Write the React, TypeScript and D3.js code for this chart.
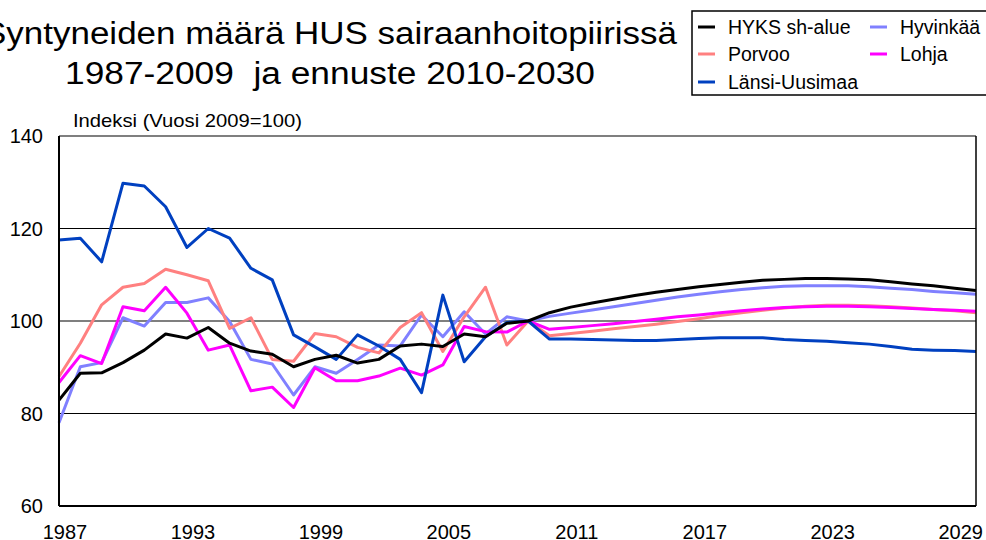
import React from "react";
import * as d3 from "d3";

const years: number[] = d3.range(1987, 2031);

const hyks: number[] = [
  82.9, 88.7, 88.8, 91.0, 93.7, 97.2, 96.3, 98.6, 95.2, 93.5, 92.8, 90.1, 91.7, 92.6, 90.9, 91.7, 94.6, 95.0, 94.5, 97.2, 96.6, 99.5,
  100, 101.8, 103.0, 103.9, 104.7, 105.5, 106.2, 106.8, 107.4, 107.9, 108.4, 108.8, 109.0, 109.2, 109.2, 109.1, 108.9, 108.5, 108.0, 107.6, 107.1, 106.6,
];
const hyvinkaa: number[] = [
  78.0, 90.1, 91.0, 100.7, 98.9, 104.0, 104.0, 105.0, 99.9, 91.7, 90.7, 84.0, 90.1, 88.7, 91.7, 94.8, 94.6, 101.3, 96.6, 102.0, 97.2, 100.9,
  100, 101.0, 101.7, 102.4, 103.1, 103.8, 104.5, 105.2, 105.8, 106.3, 106.8, 107.2, 107.5, 107.6, 107.6, 107.6, 107.4, 107.1, 106.8, 106.4, 106.1, 105.8,
];
const porvoo: number[] = [
  88.0, 95.2, 103.5, 107.3, 108.1, 111.2, 110.0, 108.7, 98.4, 100.7, 91.7, 91.3, 97.3, 96.6, 94.3, 93.1, 98.6, 101.8, 93.4, 100.9, 107.3, 94.8,
  100, 96.8, 97.3, 97.8, 98.3, 98.8, 99.3, 99.9, 100.5, 101.2, 101.8, 102.3, 102.8, 103.2, 103.4, 103.4, 103.3, 103.1, 102.8, 102.5, 102.2, 101.8,
];
const lohja: number[] = [
  86.7, 92.5, 90.8, 103.1, 102.2, 107.3, 101.7, 93.7, 94.8, 84.9, 85.7, 81.3, 89.9, 87.1, 87.1, 88.1, 89.8, 88.3, 90.5, 98.8, 97.7, 97.6,
  100, 98.2, 98.6, 99.0, 99.4, 99.9, 100.4, 100.9, 101.3, 101.8, 102.2, 102.6, 102.9, 103.1, 103.2, 103.2, 103.1, 102.9, 102.7, 102.5, 102.3, 102.1,
];
const lansiUusimaa: number[] = [
  117.5, 117.9, 112.8, 129.8, 129.2, 124.7, 115.9, 120.0, 117.9, 111.4, 108.9, 97.0, 94.4, 91.7, 97.0, 94.6, 91.7, 84.5, 105.6, 91.2, 96.6, 99.7,
  100, 96.1, 96.1, 96.0, 95.9, 95.8, 95.8, 96.0, 96.2, 96.4, 96.4, 96.4, 96.0, 95.8, 95.6, 95.3, 95.0, 94.5, 93.9, 93.7, 93.6, 93.4,
];

const yTicks: number[] = [60, 80, 100, 120, 140];
const xTickYears: number[] = [1987, 1993, 1999, 2005, 2011, 2017, 2023, 2029];

const seriesNames: string[] = ["HYKS sh-alue", "Hyvinkää", "Porvoo", "Lohja", "Länsi-Uusimaa"];
const seriesColors: string[] = ["#000000", "#8080ff", "#ff8080", "#ff00ff", "#0040c0"];
const seriesValues: number[][] = [hyks, hyvinkaa, porvoo, lohja, lansiUusimaa];

const W = 986;
const H = 540;
const M = { left: 59, right: 976, top: 136, bottom: 506 };
const FONT = "'Liberation Sans', Arial, Helvetica, sans-serif";

export default function App() {
  const x = d3.scaleLinear().domain([1987, 2030]).range([M.left, M.right]);
  const y = d3.scaleLinear().domain([60, 140]).range([M.bottom, M.top]);
  const line = d3
    .line<number>()
    .x((_, i) => x(years[i]))
    .y((d) => y(d));

  const drawOrder = [1, 2, 3, 4, 0];
  const legendPos = [
    { lx: 698, ly: 27 },
    { lx: 870, ly: 27 },
    { lx: 698, ly: 54 },
    { lx: 870, ly: 54 },
    { lx: 698, ly: 82 },
  ];

  return (
    <svg
      width={W}
      height={H}
      style={{ position: "absolute", left: 0, top: 0, background: "#fff" }}
      fontFamily={FONT}
    >
      <rect x={0} y={0} width={W} height={H} fill="#fff" />
      {/* Title */}
      <text
        x={330}
        y={44}
        fontSize={31}
        textAnchor="middle"
        textLength={694}
        lengthAdjust="spacingAndGlyphs"
        fill="#000"
      >
        Syntyneiden määrä HUS sairaanhoitopiirissä
      </text>
      <text
        x={330}
        y={84}
        fontSize={31}
        textAnchor="middle"
        textLength={530}
        lengthAdjust="spacingAndGlyphs"
        fill="#000"
        style={{ whiteSpace: "pre" }}
      >
        {"1987-2009  ja ennuste 2010-2030"}
      </text>

      {/* Legend */}
      <rect x={692} y={11} width={300} height={84} fill="#fff" stroke="#000" strokeWidth={1.5} />
      {seriesNames.map((name, s) => (
        <g key={name}>
          <line
            x1={legendPos[s].lx}
            x2={legendPos[s].lx + 17}
            y1={legendPos[s].ly}
            y2={legendPos[s].ly}
            stroke={seriesColors[s]}
            strokeWidth={3}
          />
          <text x={legendPos[s].lx + 30} y={legendPos[s].ly + 7} fontSize={19.5} fill="#000">
            {name}
          </text>
        </g>
      ))}

      {/* Axis title */}
      <text x={73} y={126.5} fontSize={18.5} textLength={229} lengthAdjust="spacingAndGlyphs" fill="#000">
        Indeksi (Vuosi 2009=100)
      </text>

      {/* Gridlines */}
      {yTicks.slice(1).map((t) => (
        <line key={t} x1={M.left} x2={M.right} y1={y(t)} y2={y(t)} stroke="#000" strokeWidth={1.2} />
      ))}

      {/* Series */}
      {drawOrder.map((s) => (
        <path
          key={seriesNames[s]}
          d={line(seriesValues[s]) || ""}
          fill="none"
          stroke={seriesColors[s]}
          strokeWidth={3}
          strokeLinejoin="round"
        />
      ))}

      {/* Frame */}
      <line x1={M.left} x2={M.left} y1={M.top} y2={M.bottom} stroke="#000" strokeWidth={2} />
      <line x1={M.left} x2={M.right} y1={M.bottom} y2={M.bottom} stroke="#000" strokeWidth={2} />
      <line x1={M.right} x2={M.right} y1={M.top} y2={M.bottom} stroke="#000" strokeWidth={1.5} />

      {/* Y tick labels */}
      {yTicks.map((t) => (
        <text key={t} x={43} y={y(t) + 7} fontSize={20} textAnchor="end" fill="#000">
          {t}
        </text>
      ))}

      {/* X tick labels */}
      {xTickYears.map((t) => (
        <text key={t} x={x(t) + 6} y={538.5} fontSize={20} textAnchor="middle" fill="#000">
          {t}
        </text>
      ))}
    </svg>
  );
}
